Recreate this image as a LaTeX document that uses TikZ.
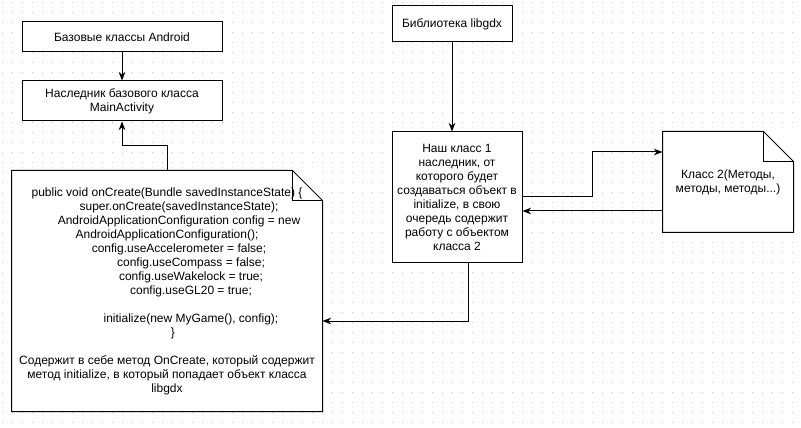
\documentclass[tikz,border=0pt]{standalone}
\usepackage{fontspec}
\setmainfont{Liberation Sans}
\usetikzlibrary{arrows.meta}
\definecolor{cgrid}{HTML}{C4C4C4}
\definecolor{cline}{HTML}{000000}

\begin{document}
\begin{tikzpicture}[
  x=0.75pt, y=-0.75pt,
  arr/.style  = {-{Stealth[length=6.5pt, width=5pt]}, line width=0.75pt, color=cline},
  tbox/.style = {rectangle, draw=cline, line width=0.75pt, fill=white,
                 align=center, inner sep=0pt,
                 font=\fontsize{9}{10.5}\selectfont},
  nbox/.style = {tbox, draw=none},
  fold/.style = {line width=0.75pt, color=cline}
]
\useasboundingbox (0,0) rectangle (801,428);

%% -- Grid ------------------------------------------------------------------
\foreach \gx in {2,12,...,792}
  \foreach \gy in {2,12,...,422}
    \fill[cgrid] (\gx,\gy) rectangle ++(1,1);

%% -- Nodes -----------------------------------------------------------------
\node[tbox, minimum width=150pt, minimum height=22.5pt] (base) at (122,37)
  {Базовые классы Android};
\node[tbox, minimum width=150pt, minimum height=30pt] (main) at (122,101)
  {Наследник базового класса\\MainActivity};
\node[nbox, minimum width=232.5pt, minimum height=180pt] (code) at (167,291)
  {public void onCreate(Bundle savedInstanceState) \{\\
   \hspace*{18pt}super.onCreate(savedInstanceState);\\
   \hspace*{18pt}AndroidApplicationConfiguration config = new\\
   AndroidApplicationConfiguration();\\
   \hspace*{18pt}config.useAccelerometer = false;\\
   \hspace*{36pt}config.useCompass = false;\\
   \hspace*{36pt}config.useWakelock = true;\\
   \hspace*{36pt}config.useGL20 = true;\\[10.5pt]
   \hspace*{36pt}initialize(new MyGame(), config);\\
   \hspace*{9pt}\}\\[10.5pt]
   Содержит в себе метод OnCreate, который содержит\\
   метод initialize, в который попадает объект класса\\
   libgdx};
\node[tbox, minimum width=90pt, minimum height=27pt] (lib) at (452,24)
  {Библиотека libgdx};
\node[tbox, minimum width=97.5pt, minimum height=97.5pt] (cls1) at (457,197)
  {Наш класс 1\\наследник, от\\которого будет\\создаваться объект в\\initialize, в свою\\очередь содержит\\работу с объектом\\класса 2};
\node[nbox, minimum width=97.5pt, minimum height=75pt] (cls2) at (728,182)
  {Класс 2(Методы,\\методы, методы...)};

%% -- Note outlines (folded corner) -----------------------------------------
\draw[fold] (code.north west) -- ([xshift=-22.5pt]code.north east)
  -- ([yshift=-22.5pt]code.north east) -- (code.south east)
  -- (code.south west) -- cycle;
\draw[fold] ([xshift=-22.5pt]code.north east) |- ([yshift=-22.5pt]code.north east);
\draw[fold] (cls2.north west) -- ([xshift=-22.5pt]cls2.north east)
  -- ([yshift=-22.5pt]cls2.north east) -- (cls2.south east)
  -- (cls2.south west) -- cycle;
\draw[fold] ([xshift=-22.5pt]cls2.north east) |- ([yshift=-22.5pt]cls2.north east);

%% -- Arrows ----------------------------------------------------------------
% Android -> MainActivity
\draw[arr] (base.south) -- (main.north);

% onCreate note -> MainActivity (up, left, up)
\draw[arr] (code.north) -- ++(0,-25) -| (main.south);

% libgdx -> class 1
\draw[arr] (lib.south) -- (lib.south |- cls1.north);

% class 1 -> onCreate note (down, left)
\draw[arr] ([xshift=8.25pt]cls1.south) |- ([yshift=-22.5pt]code.east);

% class 1 -> class 2 (right, up, right)
\draw[arr] (cls1.east) -- ++(70,0) |- ([yshift=22.5pt]cls2.west);

% class 2 -> class 1
\coordinate (back) at ([yshift=-21.75pt]cls2.west);
\draw[arr] (back) -- (back -| cls1.east);

\end{tikzpicture}
\end{document}
